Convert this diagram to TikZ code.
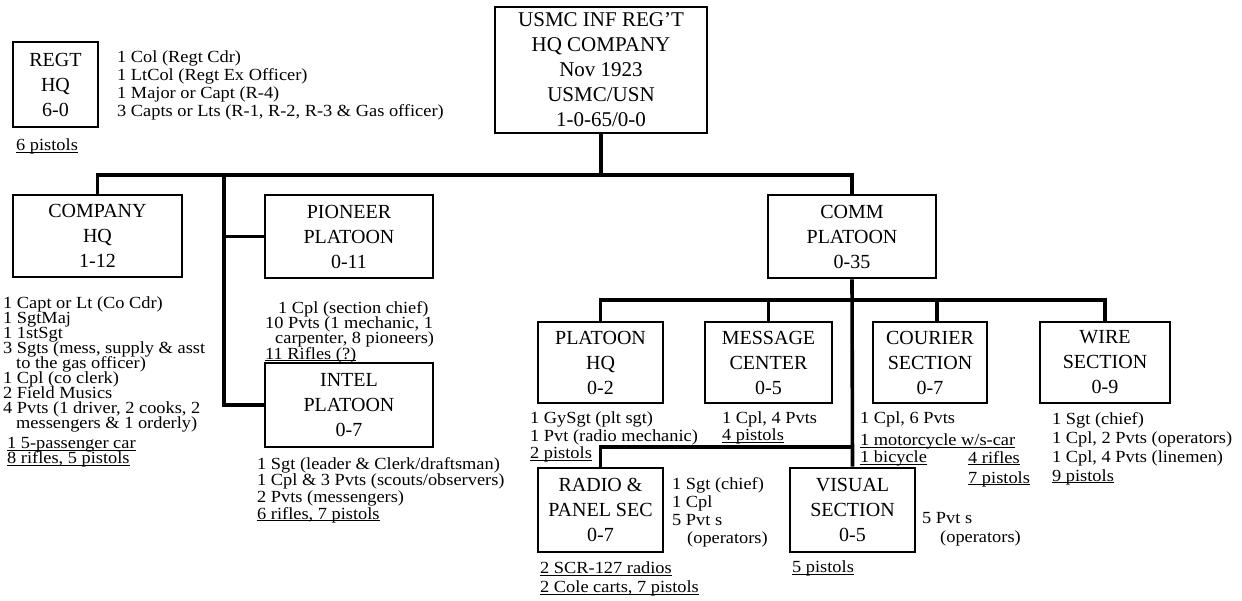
\documentclass[tikz,border=0pt]{standalone}
\usepackage{fontspec}
\setmainfont{Liberation Serif}
\newfontfamily\widefont[FakeStretch=1.08]{Liberation Serif}
\newcommand\dfont[1]{\widefont\fontsize{17}{#1}\selectfont\lineskiplimit=-\maxdimen\lineskip=0pt}
\newcommand\tfont{\fontsize{20}{25}\selectfont\lineskiplimit=-\maxdimen\lineskip=0pt}
\newcommand\bigtfont{\fontsize{21}{25}\selectfont\lineskiplimit=-\maxdimen\lineskip=0pt}
\newcommand\ul[1]{\underline{\smash{#1}}\vphantom{#1}}
\begin{document}
\begin{tikzpicture}[x=1pt,y=-1pt,
  box/.style={draw, line width=2.8pt, inner sep=0pt, align=center, font=\tfont},
  conn/.style={line width=3.6pt},
  dtxt/.style={anchor=north west, inner sep=0pt, align=left}]
\useasboundingbox (0,0) rectangle (1242,601);
% boxes
\node[box, minimum width=85, minimum height=85] (regt) at (55.5,84.5) {REGT\\HQ\\6-0};
\node[box, font=\bigtfont, minimum width=212, minimum height=126] (top) at (601,70) {USMC INF REG'T\\HQ COMPANY\\Nov 1923\\USMC/USN\\1-0-65/0-0};
\node[box, minimum width=169, minimum height=82] (cohq) at (97.5,236) {COMPANY\\HQ\\1-12};
\node[box, minimum width=168, minimum height=83] (pion) at (349,236.5) {PIONEER\\PLATOON\\0-11};
\node[box, minimum width=168, minimum height=84] (intel) at (349,405) {INTEL\\PLATOON\\0-7};
\node[box, minimum width=168, minimum height=83] (comm) at (852,236.5) {COMM\\PLATOON\\0-35};
\node[box, minimum width=125, minimum height=81] (plhq) at (600.5,362.5) {PLATOON\\HQ\\0-2};
\node[box, minimum width=127, minimum height=81] (msg) at (768.5,362.5) {MESSAGE\\CENTER\\0-5};
\node[box, minimum width=114, minimum height=81] (cour) at (930,362.5) {COURIER\\SECTION\\0-7};
\node[box, minimum width=130, minimum height=81] (wire) at (1105,362.5) {WIRE\\SECTION\\0-9};
\node[box, minimum width=125, minimum height=84] (radio) at (600.5,510) {RADIO \&\\PANEL SEC\\0-7};
\node[box, minimum width=125, minimum height=84] (visual) at (852.5,510) {VISUAL\\SECTION\\0-5};
% connectors
\coordinate (bus) at (0,175);
\coordinate (vx) at (224,175);
\coordinate (sb) at (0,300);
\coordinate (rb) at (0,447);
\draw[conn] (top.south) -- (top.south |- bus);
\draw[conn] (cohq.north) -- (cohq.north |- bus) -- (comm.north |- bus) -- (comm.north);
\draw[conn] (vx) |- (intel.west);
\draw[conn] (vx |- pion.west) -- (pion.west);
\draw[conn] (comm.south) -- (visual.north);
\draw[conn] (plhq.north) -- (plhq.north |- sb) -- (wire.north |- sb) -- (wire.north);
\draw[conn] (msg.north) -- (msg.north |- sb);
\draw[conn] ([xshift=7pt]cour.north) -- ([xshift=7pt]cour.north |- sb);
\draw[conn] (radio.north) -- (radio.north |- rb) -- (visual.north |- rb);
% texts
\node[dtxt, font=\dfont{17.7}] (regtxt) at (117,51) {1 Col (Regt Cdr)\\1 LtCol (Regt Ex Officer)\\1 Major or Capt (R-4)\\3 Capts or Lts (R-1, R-2, R-3 \& Gas officer)};
\node[dtxt, font=\dfont{15}] (regp) at (16,139) {\ul{6 pistols}};
\node[dtxt, font=\dfont{15}] (cohqtxt) at (3,297) {1 Capt or Lt (Co Cdr)\\1 SgtMaj\\1 1stSgt\\3 Sgts (mess, supply \& asst\\\hspace*{13pt}to the gas officer)\\1 Cpl (co clerk)\\2 Field Musics\\4 Pvts (1 driver, 2 cooks, 2\\\hspace*{13pt}messengers \& 1 orderly)};
\node[dtxt, font=\dfont{15}] (cohqeq) at (7,437) {\ul{1 5-passenger car}\\\ul{8 rifles, 5 pistols}};
\node[dtxt, font=\dfont{15.3}] (piontxt) at (265,301) {\hspace*{13pt}1 Cpl (section chief)\\10 Pvts (1 mechanic, 1\\\hspace*{10pt}carpenter, 8 pioneers)\\\ul{11 Rifles (?)}};
\node[dtxt, font=\dfont{16.7}] (inteltxt) at (257,457) {1 Sgt (leader \& Clerk/draftsman)\\1 Cpl \& 3 Pvts (scouts/observers)\\2 Pvts (messengers)\\\ul{6 rifles, 7 pistols}};
\node[dtxt, font=\dfont{17.5}] (plhqtxt) at (530,412) {1 GySgt (plt sgt)\\1 Pvt (radio mechanic)\\\ul{2 pistols}};
\node[dtxt, font=\dfont{17}] (msgtxt) at (722,412) {1 Cpl, 4 Pvts\\\ul{4 pistols}};
\node[dtxt, font=\dfont{17}] (courtxt) at (860,412) {1 Cpl, 6 Pvts\\[5pt]\ul{1 motorcycle w/s-car}\\\ul{1 bicycle}};
\node[dtxt, font=\dfont{20}] (courtxt2) at (968,451) {\ul{4 rifles}\\\ul{7 pistols}};
\node[dtxt, font=\dfont{19}] (wiretxt) at (1052,412) {1 Sgt (chief)\\1 Cpl, 2 Pvts (operators)\\1 Cpl, 4 Pvts (linemen)\\\ul{9 pistols}};
\node[dtxt, font=\dfont{18}] (radiotxt) at (672,477) {1 Sgt (chief)\\1 Cpl\\5 Pvt s\\\hspace*{15pt}(operators)};
\node[dtxt, font=\dfont{19}] (radioeq) at (540,562) {\ul{2 SCR-127 radios}\\\ul{2 Cole carts, 7 pistols}};
\node[dtxt, font=\dfont{19}] (vistxt) at (922,512) {5 Pvt s\\\hspace*{18pt}(operators)};
\node[dtxt, font=\dfont{15}] (visp) at (792,561) {\ul{5 pistols}};
\end{tikzpicture}
\end{document}
